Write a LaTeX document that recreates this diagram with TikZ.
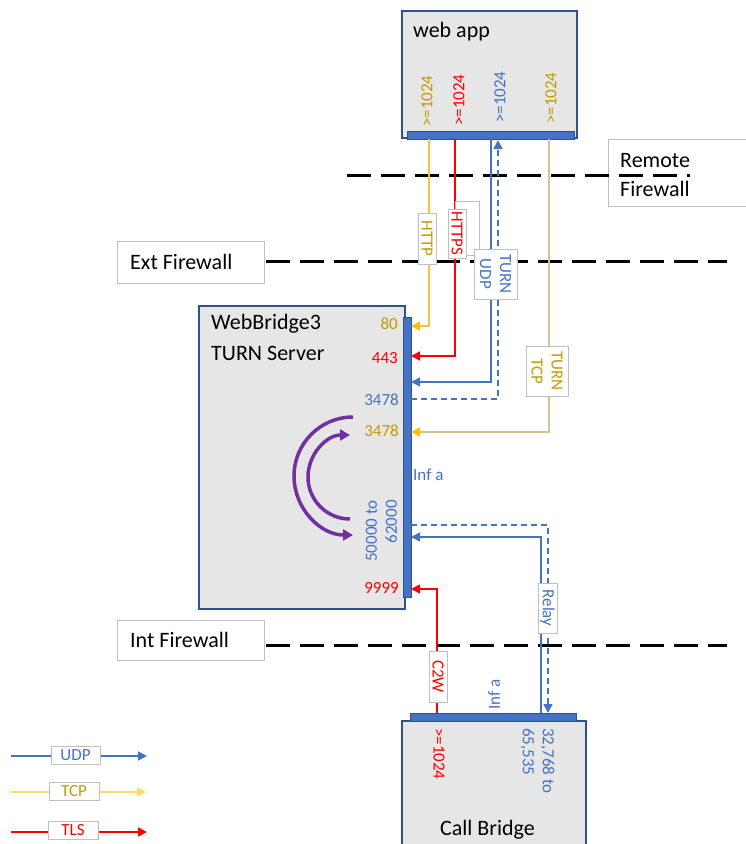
\documentclass[tikz,border=0pt]{standalone}
\usepackage{fontspec}
\setmainfont{Carlito}
\usetikzlibrary{arrows.meta}
\definecolor{boxfill}{HTML}{E7E6E6}
\definecolor{boxline}{HTML}{2F528F}
\definecolor{ublue}{HTML}{4472C4}
\definecolor{gtext}{HTML}{C49A00}
\definecolor{gline}{HTML}{F5C343}
\definecolor{garrow}{HTML}{FFC000}
\definecolor{tanline}{HTML}{D3C28D}
\definecolor{lgray}{HTML}{BFBFBF}
\definecolor{purp}{HTML}{7030A0}
\definecolor{lgold}{HTML}{FFD966}
\definecolor{ured}{HTML}{FF0000}
\tikzset{
 bigfont/.style={font=\fontsize{22}{27}\selectfont},
 smallfont/.style={font=\fontsize{17}{20}\selectfont},
 devbox/.style={draw=boxline, fill=boxfill, line width=1.5pt, anchor=north west, inner sep=0pt},
 portbar/.style={draw=boxline, fill=ublue, line width=1pt, anchor=north west, inner sep=0pt},
 tagbox/.style={draw=lgray, fill=white, line width=0.8pt, inner sep=0pt, smallfont, align=center},
 fwbox/.style={draw=lgray, fill=white, line width=0.8pt, anchor=north west, inner sep=0pt},
 fwline/.style={line width=3pt, dash pattern=on 24pt off 10pt},
 porttext/.style={smallfont, inner sep=0pt},
 udpline/.style={ublue, line width=1.6pt, -{Triangle[length=9pt,width=9pt]}},
 udpdash/.style={ublue, line width=1.6pt, dash pattern=on 6pt off 4pt, -{Triangle[length=9pt,width=9pt]}},
 httpline/.style={gline, line width=1.6pt, -{Triangle[length=9pt,width=9pt,color=garrow]}},
 tanarrow/.style={tanline, line width=1.6pt, -{Triangle[length=9pt,width=9pt,color=garrow]}},
 tlsline/.style={ured, line width=1.6pt, -{Triangle[length=9pt,width=9pt]}},
 keytcp/.style={lgold, line width=1.6pt, -{Triangle[length=9pt,width=9pt]}},
 loop/.style={purp, line width=3.5pt, -{Triangle[length=10pt,width=11pt]}},
}
\begin{document}
\begin{tikzpicture}[x=1pt,y=-1pt]
\useasboundingbox (0,0) rectangle (746,844);
\clip (0,0) rectangle (746,844);

% firewalls
\node[fwbox, minimum width=160pt, minimum height=67pt] (remfw) at (608,139) {};
\node[bigfont, anchor=base west, inner sep=0pt, align=left] (remtxt1) at (620,167) {Remote};
\node[bigfont, anchor=base west, inner sep=0pt] (remtxt2) at (620,196) {Firewall};
\coordinate (remA) at (347,175);
\coordinate (remB) at (690,175);
\draw[fwline] (remA) -- (remB);

\node[fwbox, minimum width=147pt, minimum height=42pt] (extfw) at (117,241) {};
\node[bigfont, anchor=base west, inner sep=0pt] (exttxt) at (130,269) {Ext Firewall};
\coordinate (extA) at (266,261);
\coordinate (extB) at (727,261);
\draw[fwline] (extA) -- (extB);

\node[fwbox, minimum width=147pt, minimum height=40pt] (intfw) at (117,620) {};
\node[bigfont, anchor=base west, inner sep=0pt] (inttxt) at (130,647) {Int Firewall};
\coordinate (intA) at (266,645);
\coordinate (intB) at (727,645);
\draw[fwline] (intA) -- (intB);

% devices
\node[devbox, minimum width=175pt, minimum height=127pt] (webapp) at (401,10) {};
\node[bigfont, anchor=base west, inner sep=0pt] (webapptxt) at (413,37) {web app};
\node[portbar, minimum width=167pt, minimum height=8pt] (wabar) at (407,131) {};

\node[devbox, minimum width=206pt, minimum height=303pt] (wb) at (198,305) {};
\node[bigfont, anchor=base west, inner sep=0pt] (wbtxt1) at (211,329) {WebBridge3};
\node[bigfont, anchor=base west, inner sep=0pt] (wbtxt2) at (211,360) {TURN Server};
\node[portbar, minimum width=8pt, minimum height=280pt] (wbbar) at (403,317) {};

\node[devbox, minimum width=184pt, minimum height=140pt] (cb) at (401,720) {};
\node[bigfont, anchor=base, inner sep=0pt] (cbtxt) at (487.5,835) {Call Bridge};
\node[portbar, minimum width=166pt, minimum height=8pt] (cbbar) at (410,713) {};

% web app port labels
\node[porttext, text=gtext, rotate=90, anchor=west] (wa1) at (427,127) {>=1024};
\node[porttext, text=ured, rotate=90, anchor=west] (wa2) at (459,126) {>=1024};
\node[porttext, text=ublue, rotate=90, anchor=west] (wa3) at (500,123) {>=1024};
\node[porttext, text=gtext, rotate=90, anchor=west] (wa4) at (551,124) {>=1024};

% webbridge port labels
\node[porttext, text=gtext, anchor=east] (p80) at (398,324) {80};
\node[porttext, text=ured, anchor=east] (p443) at (398,358) {443};
\node[porttext, text=ublue, anchor=east] (p3478u) at (399,400) {3478};
\node[porttext, text=gtext, anchor=east] (p3478t) at (399,431) {3478};
\node[porttext, text=ured, anchor=east] (p9999) at (399,588) {9999};
\node[porttext, text=ublue, rotate=90, anchor=east, align=right] (prange) at (381.5,500) {50000 to\\62000};
\node[porttext, text=ublue, anchor=west] (infa1) at (413,475) {Inf a};

% call bridge labels
\node[porttext, text=ured, rotate=-90, anchor=west] (cbp1) at (439,728) {>=1024};
\node[porttext, text=ublue, rotate=-90, anchor=west, align=left] (cbp2) at (537.5,728) {32,768 to\\65,535};
\node[porttext, text=ublue, rotate=90, anchor=west] (infa2) at (494,710) {Inf a};

% loops
\draw[loop] (353,417) arc[start angle=90, end angle=270, radius=59pt];
\draw[loop] (350,519) arc[start angle=270, end angle=90, radius=42pt];

% connector endpoints
\coordinate (waHttp) at (429,139);
\coordinate (wbHttp) at (411,326);
\coordinate (waHttps) at (455,139);
\coordinate (wbHttps) at (411,356);
\coordinate (waUdp) at (491,139);
\coordinate (wbUdp) at (411,382);
\coordinate (wbUdpOut) at (411,399);
\coordinate (waUdpIn) at (498,140);
\coordinate (waTcp) at (549,139);
\coordinate (wbTcp) at (411,432);
\coordinate (cbRelay) at (541,713);
\coordinate (wbRelay) at (411,537);
\coordinate (wbRelayOut) at (411,525);
\coordinate (cbRelayIn) at (548,713);
\coordinate (cbC2w) at (437,713);
\coordinate (wbC2w) at (411,589);

\draw[httpline] (waHttp) |- (wbHttp);
\draw[tlsline] (waHttps) |- (wbHttps);
\draw[udpline] (waUdp) |- (wbUdp);
\draw[udpdash] (wbUdpOut) -| (waUdpIn);
\draw[tanarrow] (waTcp) |- (wbTcp);
\draw[udpline] (cbRelay) |- (wbRelay);
\draw[udpdash] (wbRelayOut) -| (cbRelayIn);
\draw[tlsline] (cbC2w) |- (wbC2w);

% labels on connectors
\draw[draw=lgray, fill=white, line width=0.8pt] (455,201) rectangle (479,255);
\node[tagbox, rotate=-90, text=gtext, minimum width=51pt, minimum height=18pt] (httptag) at (427,238.5) {HTTP};
\node[tagbox, rotate=-90, text=ured, minimum width=49pt, minimum height=18pt] (httpstag) at (457,233.5) {HTTPS};
\node[tagbox, rotate=-90, text=ublue, minimum width=50pt, minimum height=43pt] (udptag) at (495.5,274) {TURN\\UDP};
\node[tagbox, rotate=-90, text=gtext, minimum width=50pt, minimum height=42pt] (tcptag) at (547,371) {TURN\\TCP};
\node[tagbox, rotate=-90, text=ublue, minimum width=50pt, minimum height=19pt] (relaytag) at (547.5,608) {Relay};
\node[tagbox, rotate=-90, text=ured, minimum width=51pt, minimum height=18pt] (c2wtag) at (438,676.5) {C2W};

% legend
\coordinate (kUdpA) at (11,756);
\coordinate (kUdpB) at (147,756);
\draw[udpline] (kUdpA) -- (kUdpB);
\node[tagbox, text=ublue, minimum width=49pt, minimum height=18pt] (kudp) at (75.5,755) {UDP};
\coordinate (kTcpA) at (11,792);
\coordinate (kTcpB) at (146,792);
\draw[keytcp] (kTcpA) -- (kTcpB);
\node[tagbox, text=gtext, minimum width=50pt, minimum height=18pt] (ktcp) at (74,791) {TCP};
\coordinate (kTlsA) at (11,832);
\coordinate (kTlsB) at (147,832);
\draw[tlsline] (kTlsA) -- (kTlsB);
\node[tagbox, text=ured, minimum width=50pt, minimum height=18pt] (ktls) at (73,830) {TLS};
\end{tikzpicture}
\end{document}
